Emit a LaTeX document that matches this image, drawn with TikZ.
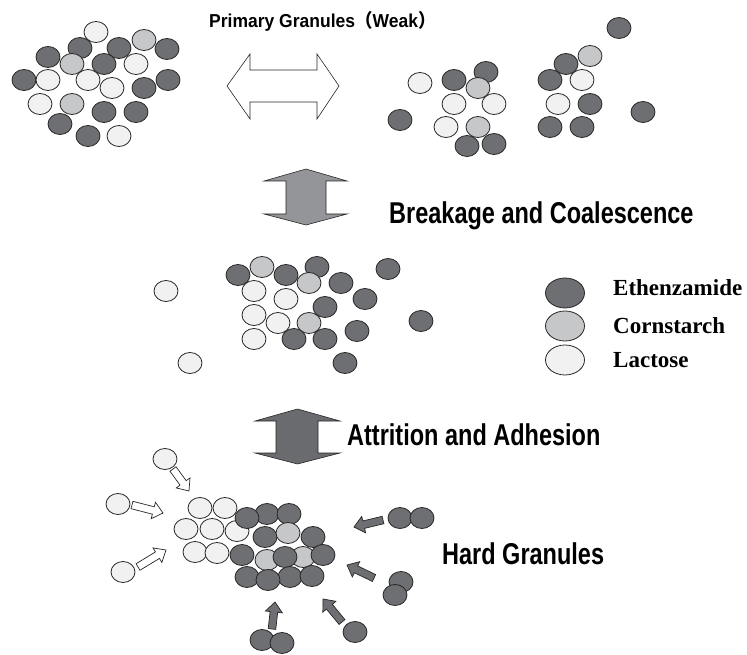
\documentclass[tikz,border=0pt]{standalone}
\usepackage{fontspec}
\usepackage{graphicx}
\setmainfont{Liberation Serif}
\newfontfamily\lsans{Liberation Sans}
\newfontfamily\cjk{Noto Sans CJK SC}
\usetikzlibrary{shapes.geometric}
\definecolor{dkc}{RGB}{110,111,114}
\definecolor{csc}{RGB}{198,199,201}
\definecolor{ltc}{RGB}{241,241,241}
\definecolor{olc}{RGB}{40,38,38}
\definecolor{garrow}{RGB}{148,149,152}
\definecolor{darrow}{RGB}{106,107,110}
\tikzset{
  gran/.style={ellipse, draw=olc, line width=0.8pt, minimum width=24pt, minimum height=21pt, inner sep=0pt, outer sep=0pt},
  dk/.style={gran, fill=dkc},
  cs/.style={gran, fill=csc},
  lt/.style={gran, fill=ltc},
  legitem/.style={gran, minimum width=39pt, minimum height=30pt},
  bigarrow/.style={draw=olc, line width=0.6pt},
  smallwhite/.style={draw=olc, line width=0.7pt, fill=white},
  smalldark/.style={draw=olc, line width=0.7pt, fill=dkc},
  biglabel/.style={anchor=base west, inner sep=0pt, font=\lsans\bfseries\fontsize{23.5}{28}\selectfont},
  leglabel/.style={anchor=base west, inner sep=0pt, font=\bfseries\fontsize{23}{27}\selectfont}
}
% block arrow: style, x1, y1, x2, y2 (pixel coordinates)
\newcommand{\blockarrow}[5]{%
  \pgfmathsetmacro{\bang}{atan2(-((#5)-(#3)),(#4)-(#2))}%
  \pgfmathsetmacro{\blen}{veclen((#4)-(#2),(#5)-(#3))}%
  \begin{scope}[shift={(#2,#3)},rotate=\bang]
    \draw[#1] (0,-3.8) -- (\blen-10,-3.8) -- (\blen-10,-8.5) -- (\blen,0) -- (\blen-10,8.5) -- (\blen-10,3.8) -- (0,3.8) -- cycle;
  \end{scope}}
\begin{document}
\begin{tikzpicture}[x=1pt,y=-1pt]
\useasboundingbox (0,0) rectangle (747,655);
% ---------- top left cluster
\node[lt] (a1) at (96,32) {};
\node[cs] (a2) at (144,40) {};
\node[dk] (a3) at (80,48) {};
\node[dk] (a4) at (119,48) {};
\node[dk] (a5) at (167,49) {};
\node[dk] (a6) at (48,57) {};
\node[cs] (a7) at (72,64) {};
\node[dk] (a8) at (104,64) {};
\node[lt] (a9) at (136,64) {};
\node[dk] (a10) at (24,80) {};
\node[lt] (a11) at (48,80) {};
\node[lt] (a12) at (88,80) {};
\node[dk] (a13) at (168,80) {};
\node[lt] (a14) at (112,88) {};
\node[dk] (a15) at (144,88) {};
\node[lt] (a16) at (40,104) {};
\node[cs] (a17) at (72,104) {};
\node[dk] (a18) at (104,112) {};
\node[dk] (a19) at (136,112) {};
\node[dk] (a20) at (60,124) {};
\node[dk] (a21) at (88,136) {};
\node[lt] (a22) at (119,136) {};
% ---------- top right clusters
\node[dk] (b1) at (619,28) {};
\node[cs] (b2) at (590,56) {};
\node[dk] (b3) at (566,64) {};
\node[dk] (b4) at (550,80) {};
\node[lt] (b5) at (582,80) {};
\node[lt] (b6) at (558,104) {};
\node[dk] (b7) at (590,104) {};
\node[dk] (b8) at (643,112) {};
\node[dk] (b9) at (550,127) {};
\node[dk] (b10) at (582,127) {};
\node[dk] (c1) at (486,72) {};
\node[dk] (c2) at (454,80) {};
\node[lt] (c3) at (420,83) {};
\node[cs] (c4) at (478,88) {};
\node[lt] (c5) at (454,104) {};
\node[lt] (c6) at (494,104) {};
\node[dk] (c7) at (400,120) {};
\node[lt] (c8) at (446,127) {};
\node[cs] (c9) at (478,127) {};
\node[dk] (c10) at (494,144) {};
\node[dk] (c11) at (467,146) {};
% ---------- white double arrow
\draw[bigarrow, fill=white] (227,86) -- (250,54) -- (250,70) -- (317,70) -- (317,54) -- (339,86)
  -- (317,119) -- (317,102) -- (250,102) -- (250,119) -- cycle;
% ---------- gray double arrow
\draw[bigarrow, fill=garrow] (306,169) -- (347,181) -- (326,181) -- (326,214) -- (347,214) -- (306,225)
  -- (264,214) -- (286,214) -- (286,181) -- (264,181) -- cycle;
% ---------- dark double arrow
\draw[bigarrow, fill=darrow] (297.5,409) -- (340,421) -- (318,421) -- (318,453) -- (340,453) -- (297.5,464)
  -- (255,453) -- (276,453) -- (276,421) -- (255,421) -- cycle;
% ---------- labels
\node[anchor=base west, inner sep=0pt, font=\lsans\bfseries\fontsize{17.5}{21}\selectfont] (t1) at (209,28)
  {\scalebox{1}[1.07]{Primary Granules{\cjk （}Weak{\cjk ）}}};
\node[biglabel] (t2) at (389,224) {\scalebox{1}[1.28]{Breakage and Coalescence}};
\node[biglabel] (t3) at (347,445) {\scalebox{1}[1.28]{Attrition and Adhesion}};
\node[biglabel] (t4) at (442,564) {\scalebox{1}[1.28]{Hard Granules}};
% ---------- middle cluster
\node[lt] (m1) at (166,291) {};
\node[lt] (m2) at (190,363) {};
\node[cs] (m3) at (262,267) {};
\node[dk] (m4) at (317,267) {};
\node[dk] (m5) at (388,269) {};
\node[dk] (m6) at (238,275) {};
\node[dk] (m7) at (286,275) {};
\node[cs] (m8) at (309,283) {};
\node[dk] (m9) at (341,283) {};
\node[lt] (m10) at (254,291) {};
\node[lt] (m11) at (286,299) {};
\node[dk] (m12) at (365,299) {};
\node[dk] (m13) at (325,307) {};
\node[lt] (m14) at (254,315) {};
\node[dk] (m15) at (421,321) {};
\node[lt] (m16) at (278,323) {};
\node[cs] (m17) at (309,323) {};
\node[dk] (m18) at (357,331) {};
\node[lt] (m19) at (254,339) {};
\node[dk] (m20) at (294,339) {};
\node[dk] (m21) at (325,339) {};
\node[dk] (m22) at (345,363) {};
% ---------- legend
\node[legitem, fill=dkc] (l1) at (565,293) {};
\node[legitem, fill=csc] (l2) at (565,326) {};
\node[legitem, fill=ltc] (l3) at (565,360) {};
\node[leglabel] (lt1) at (613,295) {Ethenzamide};
\node[leglabel] (lt2) at (613,333) {Cornstarch};
\node[leglabel] (lt3) at (613,367) {Lactose};
% ---------- hard granule cluster
\node[lt] (h1) at (200,508) {};
\node[lt] (h2) at (225,508) {};
\node[lt] (h3) at (186,529) {};
\node[lt] (h4) at (212,529) {};
\node[lt] (h5) at (237,531) {};
\node[lt] (h6) at (195,552) {};
\node[lt] (h7) at (217,553) {};
\node[dk] (h8) at (267,514) {};
\node[dk] (h9) at (289,514) {};
\node[dk] (h10) at (247,518) {};
\node[dk] (h11) at (265,537) {};
\node[cs] (h12) at (288,533) {};
\node[dk] (h13) at (313,537) {};
\node[cs] (h14) at (267,560) {};
\node[cs] (h15) at (303,557) {};
\node[dk] (h16) at (242,555) {};
\node[dk] (h17) at (285,557) {};
\node[dk] (h18) at (323,555) {};
\node[dk] (h19) at (247,577) {};
\node[dk] (h20) at (290,577) {};
\node[dk] (h21) at (312,576) {};
\node[dk] (h22) at (268,580) {};
% ---------- free particles
\node[lt] (f1) at (165,459) {};
\node[lt] (f2) at (118,504) {};
\node[lt] (f3) at (123,572) {};
\node[dk] (f4) at (400,518) {};
\node[dk] (f5) at (422,518) {};
\node[dk] (f6) at (401,582) {};
\node[dk] (f7) at (395,595) {};
\node[dk] (f8) at (355,632) {};
\node[dk] (f9) at (262,640) {};
\node[dk] (f10) at (282,643) {};
% ---------- small arrows
\blockarrow{smallwhite}{173}{469}{189}{491}
\blockarrow{smallwhite}{132}{505}{163}{513}
\blockarrow{smallwhite}{138}{567}{166}{550}
\blockarrow{smalldark}{383}{520}{354}{527}
\blockarrow{smalldark}{374}{578}{347}{565}
\blockarrow{smalldark}{342}{622}{323}{599}
\blockarrow{smalldark}{272}{629}{275}{602}
\end{tikzpicture}
\end{document}
